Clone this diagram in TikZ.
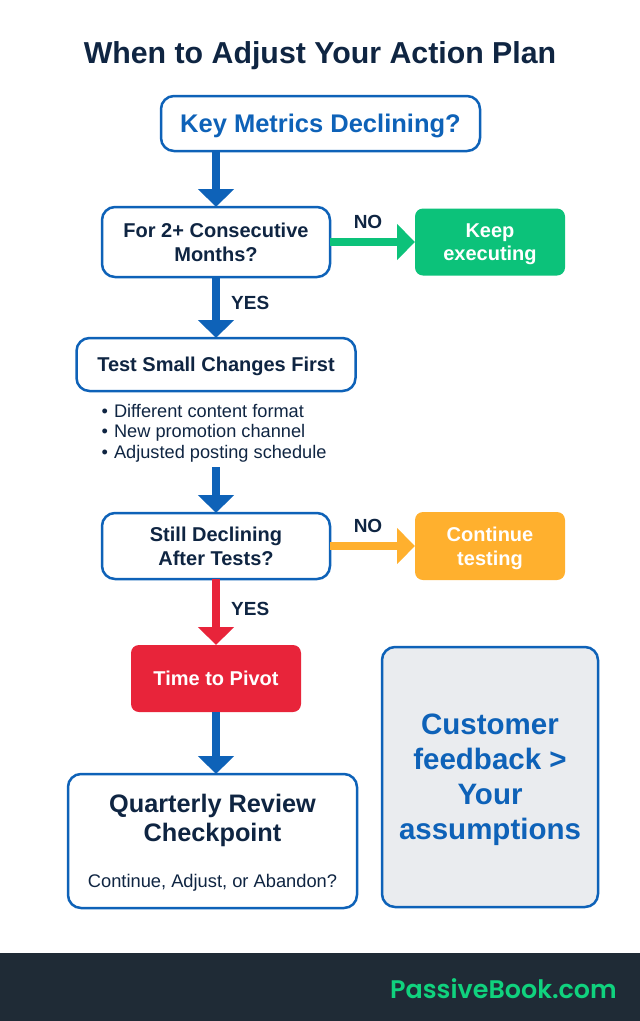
\documentclass[tikz,border=0pt]{standalone}
\usepackage{fontspec}
\setmainfont{Liberation Sans}
\newfontfamily\brandfont{Poppins}[UprightFont=* SemiBold]
\usetikzlibrary{arrows.meta,positioning}
\definecolor{navy}{HTML}{0F2542}
\definecolor{flowblue}{HTML}{0E62B8}
\definecolor{flowgreen}{HTML}{0CC27A}
\definecolor{floworange}{HTML}{FFB02E}
\definecolor{flowred}{HTML}{E8243A}
\definecolor{panelgray}{HTML}{EAECEF}
\definecolor{footerdark}{HTML}{1F2B36}
\definecolor{brandgreen}{HTML}{10D27E}
\newcommand{\fsize}[2]{\fontsize{#1pt}{#2pt}\selectfont}
\newcommand{\bulletitem}[1]{\textbullet\hspace{6pt}#1}

\begin{document}
\begin{tikzpicture}[
	x=1pt,y=1pt,
		box/.style={
			rectangle,
			draw=flowblue,
			line width=2.5pt,
			rounded corners=13pt,
			fill=white,
			text=navy,
			font=\bfseries\fsize{20}{23.5},
			align=center,
			text depth=-2pt,
			inner sep=0pt,
			outer sep=0pt
		},
		result/.style={
			rectangle,
			rounded corners=8pt,
			text=white,
			font=\bfseries\fsize{20}{23.5},
			align=center,
			text depth=-2pt,
			inner sep=0pt,
			outer sep=0pt
		},
		label/.style={
			text=navy,
			font=\bfseries\fsize{19}{23},
			inner sep=0pt
		},
		arrow/.style={
			-{Triangle[width=35pt,length=18pt]},
			line width=8pt,
			draw=flowblue
		}
	]
	\useasboundingbox (0,0) rectangle (640,-1021);
	% Title
	\node[text=navy, font=\bfseries\fsize{30.3}{33}] (title) at (320,-56) {When to Adjust Your Action Plan};
	% First question
	\node[box, minimum width=319pt, minimum height=55pt, text=flowblue, font=\bfseries\fsize{25.5}{28}] (key) at (320.5,-123.5) {Key Metrics Declining?};
	\node[box, minimum width=228pt, minimum height=70pt, below=56pt of key, xshift=-104.5pt] (consec) {For 2+ Consecutive\\Months?};
	\node[result, fill=flowgreen, minimum width=150pt, minimum height=67pt, right=85pt of consec] (keep) {Keep\\executing};
	% Small changes
	\node[box, minimum width=279pt, minimum height=53pt, below=61pt of consec] (test) {Test Small Changes First};
	\node[text=navy, font=\fsize{18.2}{20.5}, align=left, inner sep=0pt, below=13pt of test.south west, anchor=north west, xshift=25pt] (changes) {%
		\bulletitem{Different content format}\\
		\bulletitem{New promotion channel}\\
		\bulletitem{Adjusted posting schedule}};
	% Second question
	\node[box, minimum width=228pt, minimum height=66pt, below=122pt of test] (still) {Still Declining\\After Tests?};
	\node[result, fill=floworange, minimum width=150pt, minimum height=68pt, right=85pt of still] (continue) {Continue\\testing};
	\node[result, fill=flowred, minimum width=170pt, minimum height=67pt, below=66pt of still] (pivot) {Time to Pivot};
	% Review
	\node[box, minimum width=289pt, minimum height=134pt, below=62pt of pivot, xshift=-3.5pt, font=\bfseries\fsize{25.3}{29}] (review) {Quarterly Review\\Checkpoint\\[17pt]{\normalfont\fsize{18.3}{21}Continue, Adjust, or Abandon?}};
	\node[box, fill=panelgray, minimum width=216pt, minimum height=260pt, right=25pt of review, yshift=64pt, text=flowblue, font=\bfseries\fsize{29.5}{35}] (quote) {Customer\\feedback >\\Your\\assumptions};
	% Footer
	\node[rectangle, fill=footerdark, minimum width=640pt, minimum height=68pt, inner sep=0pt, outer sep=0pt] (footer) at (320,-987) {};
	\node[text=brandgreen, font=\brandfont\fsize{25.4}{28}, inner sep=0pt, anchor=east] (brand) at (617,-989) {PassiveBook.com};
	% Free end above the second question
	\coordinate[above=46pt of still] (tests_done);
	% Connections
	\draw[arrow] (consec.north |- key.south) -- (consec);
	\draw[arrow] (consec) -- (test);
	\draw[arrow] (tests_done) -- (still);
	\draw[arrow, draw=flowred] (still) -- (pivot);
	\draw[arrow] (pivot.south -| review.north) ++(3.5,0) -- ([xshift=3.5pt]review.north);
	\draw[arrow, draw=flowgreen] (consec) -- (keep);
	\draw[arrow, draw=floworange] (still) -- (continue);
	% Branch labels
	\node[label] (no_keep) at (368,-222) {NO};
	\node[label, right=15pt of consec.south, yshift=-26pt, anchor=west] (yes_test) {YES};
	\node[label] (no_continue) at (368,-526) {NO};
	\node[label, right=15pt of still.south, yshift=-30pt, anchor=west] (yes_pivot) {YES};
\end{tikzpicture}
\end{document}
